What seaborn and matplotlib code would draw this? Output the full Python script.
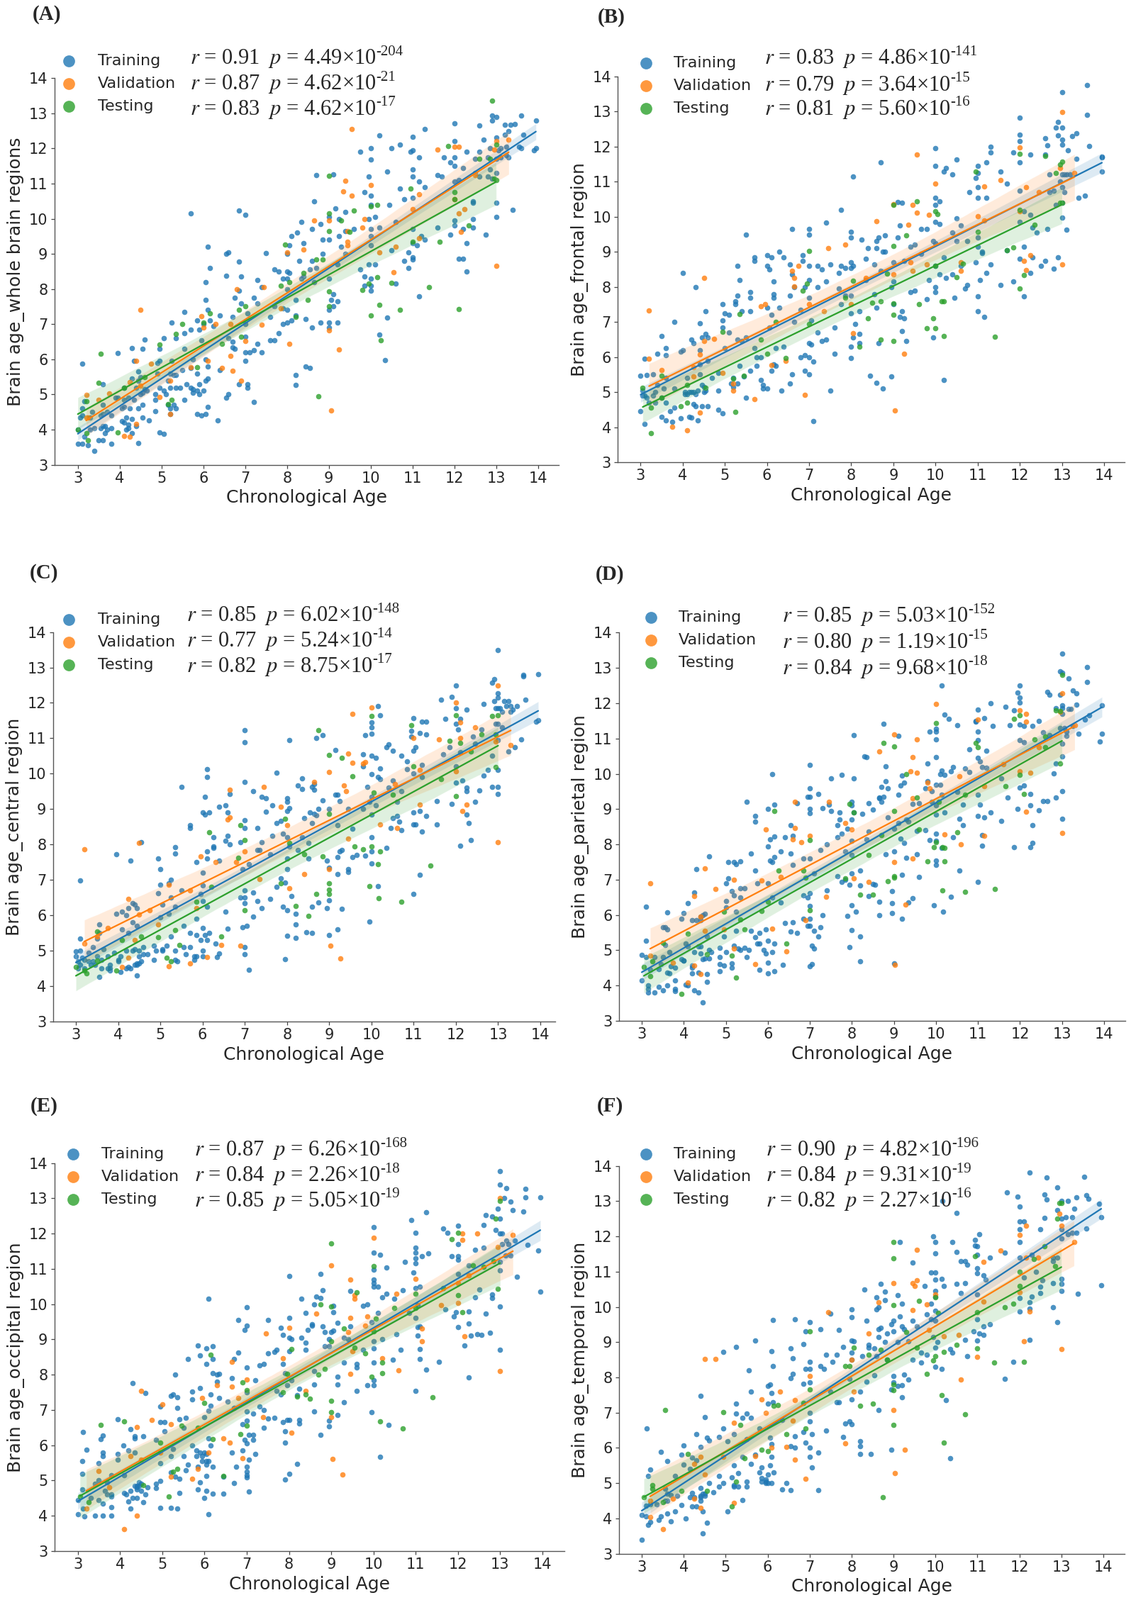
import pandas as pd
import seaborn as sns
import matplotlib.pyplot as plt
from matplotlib.collections import PathCollection

# values: {chronological age: [predicted brain ages]}
a_train = {3.0:[3.6,4.0],3.1:[3.6,4.4,4.6,5.87],3.15:[4.8,3.8],3.25:[3.55],3.4:[3.4,4.05],3.35:[4.5],3.5:[3.7],3.6:[3.7,4.1,4.45,5.3,4.7],3.65:[3.9,4.1],3.8:[3.6,4.05,4.4],3.95:[6.17,4.9],4.1:[4.2,4.65,5.2,4.85],4.2:[4.05,4.15,4.9],4.3:[3.9,5.45,6.32,4.3],4.35:[4.85,5.95],4.45:[3.62,4.6,5.65,5.4],4.55:[4.35,5.05,6.3,4.7],4.6:[6.57,5.15],4.7:[4.27],4.85:[4.53,5.0,4.85],4.95:[3.92,6.3,5.95,5.2],5.05:[3.87,6.6,5.1],5.1:[5.0],5.2:[4.6,5.2,5.6,4.45],5.25:[7.05,5.95],5.35:[6.6,4.6,5.2,5.55],5.45:[5.2],5.55:[7.35,6.75,4.85,6.3],5.6:[5.3],5.7:[10.15,6.85,5.2,5.75],5.85:[4.45,5.1,7.1,5.6],5.95:[4.4,6.55],6.05:[8.2,7.7,4.45,5.4,6.0],6.1:[7.4,9.2,4.65,5.8,5.45],6.15:[8.6,7.1],6.35:[4.27],6.4:[5.7,7.25],6.55:[9.0,8.38,4.9],6.6:[9.05,5.0,6.6],6.75:[6.3,7.75],6.85:[10.23,8.78,5.3,7.95],6.9:[8.35,7.6],7.0:[10.12,6.2,7.0,6.65,5.95],7.05:[5.2,5.3,7.3],7.1:[6.2],7.2:[4.78,6.25,7.75],7.3:[8.25,6.45,7.6],7.4:[8.05,6.2],7.5:[9.03],7.6:[7.2,6.55],7.7:[8.55,6.55,7.5],7.8:[8.5,6.75],7.9:[8.3,7.45,7.0],8.0:[9.0,8.5,8.3,7.4,8.0,7.05],8.05:[9.25,8.45],8.1:[9.5,7.1],8.2:[5.55,5.28,7.25,7.7],8.25:[9.6],8.3:[8.8],8.35:[9.9,8.3],8.4:[9.3,8.35],8.45:[5.8,7.15],8.55:[5.75,8.55],8.6:[6.9,9.7,8.8],8.65:[10.5,8.2],8.7:[11.25,8.6],8.8:[9.85,7.05],8.85:[9.4,9.0],9.0:[10.05,9.4,7.05,6.9,7.4,8.3],9.05:[7.7],9.1:[11.27,7.85,7.5],9.15:[10.3],9.2:[8.7,7.05,7.65],9.25:[9.5,10.0],9.3:[9.2],9.4:[10.2,9.0,9.65],9.6:[9.7],9.75:[11.9,8.55],9.85:[10.75,8.1,8.35],9.95:[11.2,10.0,8.7],10.0:[12.0,11.68,10.65,10.4,9.7,9.5,9.25,8.3,8.1,7.95],10.1:[10.05,8.7],10.2:[12.38,9.75,6.7],10.35:[5.97],10.4:[11.35,7.18],10.45:[10.4],10.5:[12.0,9.1],10.6:[9.9,8.15],10.7:[12.1,10.85],10.8:[8.8,10.55],10.9:[9.05,8.6],10.95:[11.9],11.0:[12.33,11.95,11.4,11.2,10.6,9.7,9.3,8.9,8.85],11.1:[9.25],11.15:[11.75,7.8,11.05],11.2:[9.5],11.3:[12.55,10.9,9.4],11.6:[11.25,9.75],11.7:[11.2],11.75:[11.75],11.9:[11.6,9.55],12.0:[12.72,12.2,11.75,11.5,11.05,9.95,9.8],12.1:[11.1,8.87],12.2:[8.87,11.45,9.7],12.3:[11.9,9.3,8.5],12.45:[10.5,10.0,9.75,10.45],12.6:[12.65,11.9,11.2],12.7:[12.25],12.75:[9.55],12.85:[11.4,12.0],12.9:[12.93,12.8,11.15],13.0:[12.9,12.3,11.7,11.3,10.45,10.05],13.05:[11.95],13.2:[12.67,12.4],13.3:[11.75,12.5],13.35:[12.67],13.4:[10.25],13.55:[12.05],13.6:[12.93,12.0],13.65:[12.4],13.9:[11.95],13.95:[12.8,12.0]}
a_more = {3.05:[4.35],3.3:[4.0,4.35],3.55:[4.05,4.4],3.7:[4.0,4.5],3.9:[4.9],4.05:[4.6,4.25],4.15:[4.35,4.0],4.25:[4.6],4.4:[5.2,4.1],4.5:[5.0,5.5],4.65:[5.1],4.9:[5.6,5.9],5.15:[5.4,4.7],5.3:[5.55,4.7],5.5:[5.7],5.75:[5.15,5.05,6.0],5.9:[5.0,5.3,6.85],6.0:[5.1,7.0],6.25:[6.95],6.7:[6.5,6.35,7.2],12.5:[11.7,11.3],12.8:[11.75,11.2],13.1:[12.0,11.75],13.25:[12.05,11.8],13.45:[12.7]}
a_val = {3.2:[4.98,4.35],3.25:[4.35],3.5:[4.85],3.75:[5.03],4.1:[3.82],4.25:[3.8,5.35],4.4:[5.95,4.17],4.5:[7.4,5.25],4.75:[5.87],4.95:[4.93],5.2:[5.4,4.45],5.7:[5.78],5.95:[7.23],6.0:[6.9],6.1:[5.95],6.3:[7.0],6.45:[5.75],6.65:[7.0,6.1],6.7:[5.68],6.8:[8.0],6.9:[5.4],7.0:[6.52],7.4:[6.98],7.45:[8.05],7.85:[7.45],8.0:[9.05],8.05:[6.45],8.4:[9.13],8.65:[9.95],9.0:[9.95,6.83],9.05:[4.55],9.25:[6.28],9.35:[10.78],9.4:[11.08],9.45:[9.65,9.35,9.25],9.55:[12.55,10.65],9.8:[9.75],9.85:[10.0],10.0:[10.95],10.2:[9.05],10.55:[8.48],10.6:[9.2],11.0:[10.27],11.15:[9.45,10.7],11.6:[11.97],12.0:[12.05,10.55],12.1:[12.05,10.15],12.15:[9.63],12.25:[10.27],12.5:[11.25],12.95:[11.97],13.0:[12.2,8.65],13.3:[12.25]}
a_test = {3.0:[4.0],3.2:[3.9,4.8],3.25:[3.7],3.5:[5.33],3.55:[6.15],3.95:[3.92],4.1:[5.2],4.6:[5.5],4.95:[6.42],5.15:[4.72],5.25:[4.85],5.35:[6.72],5.5:[7.0],5.85:[5.78],6.0:[7.05],6.15:[7.3],6.45:[6.45],6.85:[7.4],6.9:[6.65],7.0:[7.5],7.85:[8.1],7.95:[9.27],8.05:[8.2],8.2:[7.2],8.4:[8.45],8.5:[7.7],8.7:[8.85],8.75:[4.95],8.85:[8.85],9.0:[11.22,10.15,9.65,7.93,7.5],9.3:[9.95],9.5:[9.62],9.6:[10.23],9.8:[7.98],9.95:[8.15],10.0:[10.35,7.25],10.15:[10.4,8.33],10.2:[7.55],10.25:[6.55],10.5:[8.17],10.7:[7.4],10.95:[10.85],11.0:[9.35],11.4:[8.05],11.65:[9.35],11.85:[12.07],12.0:[10.75,10.55],12.1:[7.42],12.35:[9.8],12.6:[11.7],12.85:[11.7],12.9:[13.35],12.95:[11.15],13.0:[12.1,11.1]}

b_train = {3.0:[5.47,4.45],3.1:[4.1,5.95,4.9],3.15:[5.48,4.85],3.3:[5.5,4.9],3.4:[6.1,5.2],3.5:[6.6,4.3,4.85],3.6:[6.25,6.05,4.7,5.4,4.2],3.7:[4.45],3.75:[4.15],3.8:[7.0,4.55,5.1],3.95:[6.15,4.25],4.0:[8.4,6.2],4.1:[5.4,4.95],4.2:[6.5,4.27,5.0],4.25:[6.4,5.0,4.65],4.3:[8.0,4.6],4.35:[4.2,5.05],4.4:[6.97,5.8,5.5,6.2],4.45:[6.55,4.6,5.2],4.55:[6.65,7.3,5.05],4.6:[4.6,5.9,6.55],4.85:[5.55,4.5,5.05],4.95:[7.5,7.05,6.85,4.4],5.0:[7.25,6.25],5.1:[7.2,6.7],5.2:[5.15,5.4],5.25:[7.5,7.6],5.3:[8.6,7.75,6.5,5.25],5.35:[8.2,5.75],5.4:[7.3,6.45],5.5:[9.5,6.55,4.85],5.6:[7.85,7.7,7.3,5.6],5.7:[8.85,8.75,6.25],5.85:[6.0,5.35],5.9:[5.1,5.2],6.0:[8.6,8.9,7.4,5.1],6.05:[8.5,6.85],6.1:[8.85,7.2,5.6],6.15:[8.15,7.7,7.8,5.8],6.3:[9.0,7.4],6.35:[5.05],6.4:[8.85,6.3],6.55:[8.65,7.75,5.25],6.6:[9.65,8.35,5.5],6.65:[7.0,8.0],6.8:[6.0,7.35],6.85:[8.75,8.9],6.9:[5.6,6.05,8.0],7.0:[9.65,9.5,8.6,8.2,7.7,6.0,6.4,5.5],7.05:[6.35,7.05],7.1:[4.17,5.87],7.2:[8.6,8.0,6.7],7.3:[8.5,6.45],7.4:[9.83,8.15,6.5],7.5:[5.05,8.65],7.6:[6.1,6.85],7.7:[7.95,8.4],7.75:[10.2,8.6,7.5],7.85:[8.55,7.75],8.0:[9.57,9.42,8.7,8.55,7.75,7.25,6.3,5.97],8.05:[11.15,8.6,6.55],8.1:[6.95],8.2:[7.3,6.65,6.4],8.25:[9.35],8.35:[8.8,8.2],8.4:[9.1],8.45:[5.47],8.55:[8.65,7.8],8.6:[9.3,9.1,5.27,7.4],8.65:[9.4,6.4],8.7:[11.55,8.45],8.75:[5.1,9.0],8.8:[9.47,9.0],8.95:[5.45,8.0],9.0:[8.7,8.15,7.5],9.1:[10.42,9.42],9.15:[9.75,7.15],9.2:[10.4,7.3,6.75],9.25:[7.1,8.75],9.3:[6.45],9.4:[9.15,7.85],9.5:[9.2,7.9],9.65:[8.95,9.65],9.8:[7.65,9.65],9.85:[8.2],9.95:[6.55,9.3],10.0:[11.95,11.45,10.55,10.35,9.85,9.25,8.6,8.0,7.85],10.1:[9.8,10.45,8.35],10.2:[11.3,5.35,8.85],10.25:[11.4,8.25],10.4:[9.55,11.2,8.35],10.45:[7.7],10.5:[11.63,9.95,9.3],10.6:[9.75,8.6],10.7:[7.95],10.75:[8.05,9.3],10.8:[10.7],10.95:[8.7,11.1],11.0:[11.45,11.25,10.85,10.55,9.4,9.15,7.73,7.3],11.05:[8.2],11.1:[9.0,8.97],11.15:[7.15],11.2:[11.55,10.55,8.4],11.3:[12.0,11.83,8.65],11.55:[11.3,8.05],11.7:[10.95,9.05],11.85:[11.83,8.15],12.0:[12.83,12.35,12.15,11.55,10.75,9.85,8.8],12.1:[10.15,9.15,7.73],12.25:[11.77,10.05,8.4],12.3:[8.85,9.7],12.4:[9.55],12.5:[8.6],12.6:[12.25,11.77,8.75],12.65:[12.03,9.65],12.8:[8.53,10.75],12.85:[12.55,10.35],12.9:[12.7,12.33,8.85],13.0:[13.55,12.55,12.2,12.05,11.2,10.85,10.4,9.97],13.1:[11.2,9.63],13.15:[11.9],13.25:[12.3],13.35:[12.38,11.65],13.4:[10.55],13.55:[10.6],13.6:[13.75,12.9],13.65:[12.02],13.95:[11.3,11.72]}
b_more = {3.05:[4.9,5.05],3.2:[4.7],3.35:[5.0,4.7],3.55:[5.1],4.05:[5.0,4.95],4.15:[4.3,5.0],4.3:[4.95],4.5:[5.0,5.15],4.7:[5.4],5.15:[5.25],5.45:[5.45],5.75:[5.75,6.0],6.2:[5.75,6.25],12.7:[11.2,10.7],12.95:[11.0],13.05:[11.2,10.7],13.2:[11.2],13.95:[11.7]}
b_val = {3.2:[7.32,5.95],3.5:[5.62],3.75:[4.02],4.1:[3.92],4.25:[5.45,5.7],4.4:[6.08,4.42],4.5:[8.25,6.45],4.75:[6.52],4.95:[5.55],5.2:[5.05,5.25],5.7:[4.8],5.85:[7.45],5.95:[7.5],6.1:[5.78],6.45:[5.9],6.6:[8.45],6.65:[8.25,8.02],6.75:[8.6],6.9:[4.93],7.0:[7.5],7.35:[7.3],7.45:[9.1],7.85:[9.2],8.0:[7.5],8.05:[6.68],8.35:[8.25],8.6:[9.87],9.0:[10.37,8.35],9.03:[4.47],9.25:[6.1],9.35:[9.77],9.4:[8.7],9.45:[10.33,8.45],9.55:[11.77,10.12],9.8:[8.65],9.85:[10.05],10.0:[10.95],10.6:[8.45,8.7],11.0:[10.02],11.15:[10.87,9.9],11.55:[11.05],12.0:[11.98,10.15],12.1:[8.75],12.15:[10.85,8.47],12.25:[8.9],12.45:[10.7],12.95:[11.4],13.0:[12.98,8.65],13.3:[11.25]}
b_test = {3.05:[5.13],3.25:[3.82,4.55],3.5:[4.85,5.47],3.95:[4.6],4.1:[4.7,5.2],4.55:[5.13],4.95:[6.72],5.2:[5.38],5.25:[4.43],5.35:[7.22],5.45:[5.47],5.85:[6.5],6.0:[6.1],6.2:[7.0],6.45:[5.97],6.85:[7.9],6.95:[8.1],7.0:[9.03,6.95],7.85:[7.7],8.05:[8.17],8.2:[6.3],8.4:[7.1],8.5:[7.55],8.7:[6.5,7.6],8.85:[8.37],9.0:[10.35,9.17,7.2,6.45,7.53],9.3:[9.47],9.55:[10.45],9.6:[7.5],9.8:[6.83],9.95:[7.1],10.0:[10.15,8.6,6.83],10.05:[10.08],10.2:[7.6,6.6],10.15:[7.6],10.5:[8.27],10.65:[8.67],10.95:[11.3],11.0:[9.57],11.4:[6.57],11.7:[9.05],11.85:[9.12],12.0:[11.8,10.2,7.95],12.1:[8.33],12.35:[9.77],12.6:[11.73],12.85:[11.25],12.95:[11.5,10.4],13.0:[11.57,10.4]}

c_train = {3.0:[4.98,4.85],3.1:[6.98,5.35,5.0,4.6],3.15:[4.8],3.3:[4.95,4.7],3.4:[5.1,4.7],3.5:[5.35,4.85],3.55:[5.75,5.5,4.27],3.65:[5.05],3.8:[4.5,4.45,4.6],3.9:[4.95],3.95:[7.72,6.05],4.05:[4.85,4.4],4.1:[6.1,5.6],4.2:[6.0,5.0,4.5],4.25:[6.2,5.5],4.3:[7.55,4.5],4.35:[6.35,5.8,5.0],4.4:[5.05,4.6,6.3],4.45:[6.2,4.3,5.7],4.5:[4.85,5.0],4.55:[8.07,4.7],4.6:[5.1,4.9],4.85:[5.15,4.75],4.9:[5.0],4.95:[7.6,6.62],5.0:[7.3,6.87,5.95],5.05:[6.3],5.15:[5.15],5.2:[6.9,6.05],5.25:[7.0,6.5,5.4],5.35:[7.92,7.75,6.25,4.75,5.0],5.5:[9.63,6.7],5.55:[5.7,5.1],5.7:[8.55,8.47,5.5,5.1],5.85:[7.5,5.9,5.45,4.85],5.95:[6.6,5.3],6.0:[8.9,7.2,6.85,6.4,5.65,5.0,4.85],6.05:[9.35,8.85,5.45],6.1:[10.12,9.9,7.8,7.6,6.25,5.3],6.15:[8.9,5.5],6.25:[7.9,7.95,8.2],6.35:[4.83],6.4:[9.07,7.55,4.93],6.55:[9.1,8.1,6.1],6.6:[8.9,8.25,5.62],6.65:[9.42,8.0],6.9:[8.07,6.5],6.95:[7.3,5.67],7.0:[11.23,10.88,9.77,8.68,8.47,6.7,6.5,6.35,5.1,4.9],7.05:[5.7],7.1:[4.47,7.45],7.2:[9.5,6.65,5.97],7.3:[8.47,6.4,7.85],7.35:[7.85],7.4:[9.35,8.07,6.2],7.5:[9.3,8.93],7.6:[6.47,7.72],7.65:[9.1,8.25],7.75:[10.03,8.6,6.8],7.85:[8.67,7.05],7.9:[8.3,6.25],7.95:[6.93,4.77],8.0:[9.3,9.2,8.95,8.2,7.6,7.3,6.15,5.43],8.05:[10.95,9.03,7.95],8.1:[6.55],8.2:[5.37,6.05,5.75],8.25:[9.67,7.85],8.35:[9.87,9.57,8.2],8.4:[8.75],8.45:[5.53],8.5:[8.05,7.6],8.55:[8.9],8.6:[9.63,8.6,6.25,5.5],8.65:[9.7,9.55,8.87],8.7:[11.0,8.83],8.75:[9.0,6.37],8.85:[11.08,9.25],8.95:[7.55,6.2],9.0:[9.0,6.43,5.45,7.35],9.15:[10.67,9.4],9.2:[9.4,8.55,7.65,7.17,5.6],9.25:[9.23,7.8],9.3:[7.85,6.18],9.45:[9.0,7.3,7.22],9.55:[8.45,7.65],9.65:[7.7],9.8:[10.55,10.2,9.0],9.85:[11.08,7.68],9.9:[9.63],9.95:[5.83,9.2],10.0:[11.45,11.3,11.12,10.5,9.98,9.35,8.85,8.2,7.8,7.47],10.1:[10.45,9.1],10.15:[11.9,9.9,6.83],10.2:[11.65,10.15,9.85],10.35:[10.75,7.9],10.4:[10.83,9.6],10.45:[8.47],10.5:[9.8,10.65,8.75],10.6:[8.8,9.2],10.65:[8.65],10.7:[10.5,9.5,8.4],10.85:[10.13,10.35],10.95:[11.05,11.2],11.0:[11.57,10.65,10.0,8.9,8.57,6.6],11.05:[10.75,8.57],11.15:[11.15,8.95,7.15],11.2:[11.47,10.25,8.37,9.9],11.3:[11.47,11.1,8.8],11.55:[9.23,8.57],11.65:[12.08],11.7:[10.55],11.75:[11.55],11.85:[10.75],11.9:[12.17,9.15],12.0:[12.5,11.85,11.4,10.2,9.75],12.05:[11.25],12.1:[11.55,10.6,7.97],12.15:[9.8],12.25:[11.8,9.5,9.6,8.85],12.3:[8.6],12.35:[8.13],12.4:[11.05],12.45:[10.85,9.2],12.55:[9.52],12.6:[11.25],12.65:[11.97,9.95],12.75:[10.1],12.85:[12.57,9.63,10.5],12.9:[12.67,12.05],13.0:[13.5,12.27,12.15,11.85,11.4,10.95,10.1,9.63,9.42],13.1:[11.75,11.3],13.15:[12.05],13.25:[10.62,12.05],13.3:[11.9],13.35:[11.8],13.4:[10.75],13.55:[10.97],13.6:[12.8,12.75],13.65:[12.08],13.9:[11.47],13.95:[12.82,11.5]}
c_more = {3.05:[4.7,4.5],3.2:[4.5,4.75],3.35:[4.6],3.45:[4.6],3.6:[4.5,4.75],3.75:[4.85,4.5],4.0:[4.7,4.75],4.25:[4.55],4.45:[4.6,4.65],4.5:[4.65],4.7:[4.9],5.05:[5.0,5.05],5.4:[4.7],5.6:[4.9],5.8:[4.75,4.85],6.3:[5.2],12.95:[11.4,11.85],13.05:[11.85],13.2:[11.9],13.3:[11.75],13.45:[11.9]}
c_val = {3.2:[7.87,5.2],3.5:[5.4],3.75:[5.65],4.1:[4.55],4.25:[6.47,4.8],4.4:[5.3],4.5:[8.05,6.03],4.75:[6.15],4.95:[5.75],5.2:[6.87,4.57],5.7:[4.65,6.7],5.85:[6.2],5.95:[7.67],6.1:[4.83],6.3:[7.5],6.45:[5.17],6.6:[8.7],6.65:[8.77,9.55],6.8:[7.5],6.9:[5.15],7.0:[7.8],7.35:[7.03],7.45:[9.63],7.85:[9.07],8.0:[8.55],8.05:[6.77],8.4:[7.17],8.65:[9.77],9.0:[10.05,7.3],9.03:[5.15],9.27:[4.78],9.35:[9.67],9.4:[9.5],9.45:[10.57,8.17],9.55:[11.68,10.3],9.8:[10.28],9.85:[10.32],10.0:[11.87],10.2:[8.57],10.55:[9.7],10.6:[8.47],11.0:[11.0],11.15:[10.1,9.13],11.6:[10.97],12.0:[12.0,10.07],12.1:[11.0,11.45],12.15:[8.95],12.25:[9.12],12.45:[11.3],12.95:[10.9],13.0:[12.5,8.07],13.3:[10.8]}
c_test = {3.0:[4.55],3.2:[4.45],3.25:[4.37],3.5:[5.55,4.72],3.95:[4.45],4.1:[5.3],4.55:[5.4],4.95:[5.38],5.15:[4.8],5.25:[4.7],5.35:[5.58],5.45:[5.17],5.85:[6.38],6.15:[8.35],6.2:[6.8],6.45:[5.4],6.85:[7.63],6.9:[8.55],7.0:[8.13,6.15],7.85:[6.9],7.95:[8.72],8.05:[8.05],8.2:[6.27],8.4:[7.72],8.5:[5.98],8.7:[6.6],8.75:[11.22],8.85:[7.67],9.0:[10.53,8.87,6.9,6.72,6.6],9.3:[10.45],9.55:[9.93],9.6:[7.95],9.8:[7.87],9.95:[6.82],10.0:[11.62,7.95],10.05:[9.47],10.15:[7.45],10.17:[6.48],10.2:[7.8],10.5:[9.4],10.7:[6.38],10.95:[11.37],11.0:[10.2],11.4:[7.4],11.65:[9.85],11.85:[10.93],12.0:[11.65,9.37],12.1:[10.87],12.35:[10.63],12.6:[11.1],12.85:[11.63],12.95:[10.18,11.1],13.0:[11.65]}

d_train = {3.0:[4.87,4.15],3.1:[6.23,5.28,4.8],3.15:[4.0,3.8,3.9],3.3:[3.8,4.8],3.4:[3.97,4.47],3.5:[3.87,4.8,5.65],3.55:[5.65,5.15],3.6:[6.07,4.0,5.6,4.37],3.65:[4.95,4.35],3.8:[4.15,3.9,3.85,4.5],3.95:[5.9,4.75],4.0:[6.05,4.7],4.05:[4.03,5.2],4.1:[6.33,5.1],4.2:[5.85,4.57,4.35,4.5],4.25:[6.63,3.87,4.95],4.3:[7.3,5.85],4.35:[3.8,5.1,4.37],4.4:[5.85,5.95],4.45:[3.52,6.0,4.75],4.5:[6.03,4.77],4.55:[4.1,4.33,5.4],4.6:[7.67,5.0,4.77],4.85:[4.6,5.07,4.8,4.4],4.95:[4.57,5.4],5.0:[6.9,6.4,6.22],5.05:[7.5,7.03],5.15:[6.67,4.5,4.62],5.2:[7.5,6.55,5.13],5.25:[7.45,6.1,5.55],5.35:[7.53,5.0,6.75,6.5],5.45:[5.07,6.75],5.5:[9.2,4.8],5.6:[7.75,5.55],5.7:[8.65,8.8,7.25,5.37],5.75:[6.9,5.2],5.8:[4.45,5.2,5.5],5.95:[4.9,5.6],6.0:[9.0,7.95,6.9,4.65,4.35,5.27],6.05:[8.15,7.55],6.1:[10.0,7.5,6.5,4.95],6.15:[9.13,8.22,7.65,5.2,4.4],6.3:[7.8,6.35],6.35:[4.58],6.4:[8.2,5.78],6.55:[8.55,7.75,5.53],6.6:[8.25,5.8,7.42],6.7:[9.17,5.5],6.85:[7.6,6.55,5.9],6.95:[9.35,6.5,5.7],7.0:[10.25,9.6,9.35,9.0,8.88,7.6,6.25,6.62,5.9,5.7,4.55],7.05:[5.13,4.6],7.1:[5.55,5.05,7.17],7.2:[9.42,5.4],7.25:[7.85,5.65],7.3:[9.03,6.0],7.4:[8.0,6.7],7.45:[9.12],7.5:[9.88,8.95],7.65:[8.55,7.1,8.2],7.7:[8.9,8.7],7.75:[9.97,8.3,6.93],7.85:[7.8,7.0],7.9:[5.97,8.45],7.95:[6.85,5.08],8.0:[9.2,9.1,8.7,8.1,7.7,7.17,6.27,5.57],8.05:[11.1,9.87,8.9],8.1:[6.1],8.2:[7.25,6.83,4.68,5.4],8.25:[8.87],8.3:[10.5],8.35:[10.47,8.15],8.4:[9.17,6.53,8.37],8.5:[8.98,6.87],8.55:[6.85],8.65:[9.3,9.33,6.37,6.0],8.7:[9.63,9.2],8.75:[11.42,9.35],8.8:[10.22,9.8,7.73],8.85:[8.77,9.6],8.95:[6.67,6.33,6.05],9.0:[8.45,7.8,4.63],9.1:[11.07,9.4,8.6],9.15:[9.67,8.17],9.2:[9.95,7.13,5.9],9.25:[9.75,8.05],9.3:[7.62,8.7],9.35:[6.35,8.65],9.45:[9.15,6.47],9.55:[7.72,8.38],9.6:[7.07,9.17],9.75:[8.4,9.6],9.8:[10.3,9.8],9.85:[11.2,8.13],9.9:[9.2,9.5],9.95:[6.28],10.0:[11.28,11.2,10.97,10.47,9.7,9.1,8.85,8.3,8.1,7.55,7.43],10.1:[9.7,10.0],10.13:[12.5,9.4,10.1,7.9],10.17:[6.1],10.2:[11.67,9.97,8.9],10.3:[11.55],10.35:[10.07,6.52],10.4:[10.2,8.2],10.5:[11.37,9.48],10.55:[8.73,7.25],10.65:[9.12,8.55],10.7:[10.15],10.8:[10.7,10.05],10.95:[11.47,11.5],11.0:[11.83,11.2,10.95,10.45,9.4,8.8,6.93],11.05:[10.35,9.12],11.1:[10.2,8.27,7.97],11.15:[11.57,8.77],11.2:[10.65,10.17],11.3:[12.0,8.9],11.35:[11.35],11.55:[9.87,8.67],11.65:[11.9],11.7:[9.33],11.75:[11.37],11.85:[11.8,7.93],11.95:[12.3,9.0],12.0:[12.5,12.17,12.03,11.4,10.95,9.62],12.1:[11.35,10.9,9.68],12.25:[9.43,9.1,7.93],12.3:[8.05,8.55,11.35],12.45:[11.5,8.97],12.55:[11.18,9.23],12.65:[12.33,9.22],12.7:[12.25,11.1],12.8:[10.02],12.85:[11.87,9.33,10.3],12.95:[12.9,12.25,11.3],13.0:[13.4,12.87,11.95,11.87,11.7,10.85,10.5,9.5,8.73],13.1:[11.07,11.2],13.15:[12.7,11.85],13.25:[12.37,11.35],13.35:[12.28,11.97],13.4:[11.13],13.55:[11.53],13.6:[13.02,12.6],13.65:[11.65],13.9:[10.92],13.95:[11.95,11.13]}
d_more = {3.2:[4.45],3.45:[4.6],3.7:[4.55],4.0:[4.7],4.1:[4.0],4.4:[4.9,5.1],4.65:[4.95],5.0:[4.95],5.3:[5.05],5.55:[5.0],5.9:[5.0],13.05:[11.3],13.2:[11.85]}
d_val = {3.2:[6.9,4.85],3.75:[4.65],4.1:[4.08],4.25:[6.53,4.57],4.4:[5.95,4.32],4.5:[7.32,5.55],4.75:[6.73],4.95:[5.6],5.2:[7.0,5.05],5.7:[4.6],5.85:[6.97],5.95:[8.43],6.1:[5.62],6.3:[7.07],6.45:[4.97],6.6:[8.15],6.65:[9.2,8.47],6.8:[8.07],6.9:[5.85],7.0:[8.25],7.38:[6.52],7.45:[9.2],7.85:[8.6],8.0:[8.43],8.05:[7.03],8.4:[6.93],8.65:[10.63],9.0:[11.12,7.5],9.03:[4.58],9.27:[6.3],9.4:[10.07],9.45:[10.47,7.6,9.3],9.55:[10.97,10.03],9.8:[9.75],9.85:[9.6],10.0:[11.98],10.2:[8.28],10.55:[9.93],10.6:[8.0],11.0:[11.53],11.15:[9.65,8.25],11.6:[10.27],12.0:[11.8,10.07],12.15:[11.7,11.47,8.93],12.25:[10.03],12.45:[10.75],12.95:[11.75],13.0:[12.28,8.33],13.3:[11.38]}
d_test = {3.05:[4.53],3.2:[4.27],3.25:[4.68],3.5:[5.22],3.95:[3.77],4.1:[5.48],4.55:[4.88],4.95:[6.1],5.15:[4.85],5.25:[4.23],5.35:[5.87],5.45:[5.6],5.85:[6.12],6.0:[6.38],6.15:[8.95],6.25:[7.25],6.45:[5.2],6.85:[7.25],6.9:[7.05],7.0:[8.12,6.13],7.85:[7.03],7.95:[9.15],8.05:[8.9],8.2:[6.57],8.4:[7.7],8.5:[6.57],8.7:[8.27],8.75:[10.87],8.85:[6.95],9.0:[10.78,8.95,7.1,7.05],9.3:[10.0],9.55:[9.33],9.6:[8.43],9.8:[7.53],9.95:[7.92],10.0:[11.43,8.07],10.07:[9.2],10.15:[6.7,7.93],10.2:[7.9,7.52],10.5:[8.35],10.7:[6.65,9.4],10.95:[10.88],11.0:[10.75],11.4:[6.73],11.65:[9.65],11.85:[11.55],12.0:[11.65,9.98],12.1:[9.42],12.35:[10.97],12.6:[10.75,11.05],12.85:[11.8],12.95:[10.3,11.77],13.0:[12.8]}

e_train = {3.0:[4.05,4.45],3.1:[5.55,5.2,4.75],3.12:[6.37,4.2],3.15:[3.98],3.2:[5.87],3.4:[4.0,4.9],3.5:[5.5,5.0,4.45],3.55:[6.17],3.6:[4.0,6.28,5.8,5.7,4.35],3.65:[4.7],3.8:[4.0,5.15,4.25,4.6,4.55],3.95:[6.73,5.75,5.6],4.08:[6.0],4.1:[4.65,5.15],4.2:[4.4,5.85],4.25:[6.45,4.2,4.7],4.3:[7.77,4.5],4.35:[6.25,6.2,4.85,5.8],4.4:[4.5,4.75],4.45:[4.85,4.95],4.55:[4.38,6.25],4.6:[7.48,4.6],4.65:[4.8],4.85:[4.78,6.15,4.9],4.95:[7.1,6.65,4.98,4.22,5.5],5.05:[6.65,6.4],5.2:[5.23,7.4,5.7,4.22],5.25:[7.45,5.9],5.3:[8.0,5.1],5.35:[7.37,7.05,4.2],5.4:[6.73,5.05,4.65],5.5:[6.5,5.7],5.55:[6.78,5.3],5.6:[8.45,5.45],5.7:[7.53,7.3,6.0],5.85:[8.82,5.4,4.75],5.9:[8.55,7.62,4.95,5.8],6.0:[6.8,4.5,5.8],6.05:[8.3,8.75,5.75,5.45,4.7,5.55,5.13],6.1:[10.15,6.98,4.05,6.2],6.15:[7.45,7.12,6.0],6.2:[8.45,8.8,8.05,5.4,4.63],6.3:[8.0,7.8],6.35:[7.35,8.03],6.45:[5.1,4.63],6.55:[7.25],6.65:[7.9,5.8],6.7:[8.45,4.93,7.05],6.75:[5.4],6.8:[9.55,8.62],6.9:[5.85,6.6],6.95:[9.27,6.15],7.0:[9.92,9.4,8.2,7.5,6.95,6.7,5.25,5.4,5.15,5.08,6.05],7.05:[6.3,5.6,4.68],7.15:[6.3,6.9,6.15],7.2:[7.85,5.75],7.3:[8.27,7.1],7.4:[8.3,7.0,6.5],7.5:[9.55,8.6,6.75],7.65:[8.65,6.77],7.7:[8.7,7.55],7.8:[9.32,7.45],7.85:[9.12,8.3,6.65],7.9:[8.05,6.4,6.07,5.02],7.95:[6.72,7.7],8.0:[10.8,9.62,9.05,8.67,6.72,5.2],8.05:[9.0,7.85],8.2:[7.42,5.47],8.25:[7.6,6.72,6.62],8.3:[10.15,9.05],8.4:[9.75,8.9,8.7],8.45:[9.27],8.55:[9.4,9.43],8.6:[8.1,7.72,6.95,10.0],8.65:[10.22],8.75:[10.85,10.18,6.3],8.8:[10.4,9.38],8.85:[9.2,8.8],8.95:[9.0,8.8,6.53,6.7],9.0:[9.2],9.05:[9.95,9.77,9.25],9.15:[9.47,7.72,6.85,7.95],9.3:[9.05,7.22,8.35],9.4:[9.0],9.45:[10.38,9.38],9.6:[8.2,7.55,8.3],9.75:[8.7,9.95],9.85:[10.0,7.7],9.95:[6.93,9.5],10.0:[12.18,11.45,10.97,10.7,10.6,10.5,8.95,8.75,8.35,7.85,7.7],10.1:[10.5,9.75],10.15:[11.4,5.68],10.2:[10.2,9.0],10.3:[11.03,10.3],10.35:[6.58],10.45:[8.42],10.5:[10.15],10.55:[9.15],10.65:[8.7],10.7:[10.4],10.75:[11.2],10.85:[9.75],10.9:[12.38],10.95:[10.9],11.0:[12.02,11.6,11.45,11.3,11.15,10.45,9.62,7.55],11.05:[9.98,9.35,9.1],11.1:[8.45,8.72,10.5,9.37],11.15:[11.35],11.25:[12.6,8.15],11.3:[11.43],11.55:[8.37],11.65:[12.15],11.7:[9.85],11.75:[12.03],11.85:[11.35],11.9:[9.65],11.95:[9.77],12.0:[12.23,11.7,11.35,11.25,10.85,9.35],12.15:[8.82],12.25:[7.92,11.1,9.45,9.8],12.3:[9.1],12.4:[11.55,10.2],12.45:[9.15],12.5:[10.42],12.55:[9.12],12.6:[12.25,11.6],12.65:[9.73,12.52],12.75:[9.18],12.8:[12.48,10.28,10.18],12.9:[12.1],12.95:[12.7],13.0:[13.78,13.38,12.42,12.0,11.2,10.95,9.93,8.7],13.1:[13.0],13.13:[11.38],13.15:[13.28,11.8],13.25:[12.9,11.38],13.3:[12.67],13.35:[11.8],13.4:[10.77],13.55:[12.63],13.6:[13.27,13.03],13.65:[11.68],13.9:[11.53],13.95:[13.03,10.35]}
e_more = {3.3:[4.5],3.7:[4.6,4.95],4.15:[4.6],4.4:[4.8,4.85],4.5:[4.9,4.7],5.8:[5.7,5.85],5.95:[5.55,5.7],6.1:[5.55],13.05:[12.0,11.7],13.2:[11.7]}
e_val = {3.2:[4.2],3.5:[5.27],3.75:[4.8],4.1:[3.62],4.25:[5.7],4.4:[6.52,4.0],4.5:[7.55,5.6],4.75:[6.72],4.95:[5.8],5.0:[7.15],5.2:[6.6,5.1],5.7:[5.05],5.85:[5.33],5.95:[7.35],6.1:[5.8],6.3:[7.7],6.45:[6.2],6.6:[6.08],6.65:[8.37,7.67],6.8:[7.35],6.9:[5.63],7.0:[7.87],7.38:[6.8],7.45:[9.17],7.85:[8.47],8.0:[9.33],8.05:[6.35],8.4:[7.55],8.65:[9.73],9.0:[11.1,6.8],9.03:[5.62],9.27:[5.18],9.4:[9.2],9.45:[10.7,8.02,9.62],9.5:[8.67],9.55:[10.25,10.15],9.8:[9.4],9.85:[9.65],10.0:[11.88],10.2:[8.47],10.55:[10.3],10.6:[8.12],11.0:[10.72],11.15:[9.3,8.95],11.6:[9.97],12.0:[10.03,10.6],12.1:[11.82,12.0],12.15:[9.08],12.25:[10.82],12.45:[12.0],12.95:[11.62],13.0:[13.0,8.1],13.3:[11.97]}
e_test = {3.05:[4.55],3.25:[4.38],3.55:[6.57],4.1:[6.68],4.55:[4.87],4.95:[6.07],5.15:[4.55],5.25:[5.25],5.35:[5.33],5.45:[6.55],5.85:[6.5],6.0:[7.2],6.15:[8.57],6.2:[6.18],6.45:[5.13],6.85:[6.32],6.9:[7.78],7.0:[7.57,6.55],7.85:[7.5],7.95:[8.02],8.05:[8.73],8.2:[7.38],8.4:[7.45],8.5:[7.33],8.7:[8.0],8.75:[10.0],8.85:[8.17],9.0:[11.72,9.93,8.95,7.27,6.93],9.3:[9.3],9.55:[8.77],9.6:[10.33],9.8:[8.6],9.95:[7.95],10.0:[11.08,9.23],10.05:[9.6],10.15:[6.68],10.2:[8.05,8.35],10.5:[9.9],10.7:[6.47],11.0:[10.3,9.9],11.4:[7.37],11.65:[10.45],11.85:[11.85],12.0:[12.02,10.25],12.1:[9.77],12.35:[11.1],12.6:[11.05],12.85:[11.22],12.9:[12.42],12.95:[10.43],13.0:[12.93]}

f_train = {3.0:[3.4,4.1],3.1:[4.05,4.35],3.12:[6.55],3.15:[3.82,5.2],3.2:[3.9,5.38],3.4:[3.95],3.45:[5.88,4.05],3.55:[4.5,4.85],3.6:[5.63,4.13],3.7:[3.92,4.67],3.8:[5.2,4.2],3.85:[4.65],3.95:[5.8,4.37],4.0:[6.07,5.53],4.05:[4.0],4.15:[4.6,5.4],4.2:[5.72,4.33,4.72],4.3:[6.4,4.33,5.65],4.4:[7.48,6.03,4.6,4.87],4.45:[3.57,4.2,4.7],4.5:[6.87,4.65],4.55:[3.88,6.3],4.6:[6.22,5.0],4.7:[4.75],4.85:[5.2,4.9,6.32],4.95:[8.73,6.55,5.0],5.05:[4.2,6.2],5.15:[5.17],5.2:[6.4,5.5,4.95],5.25:[8.87,7.25,6.97],5.3:[5.28,4.9],5.4:[4.53,6.85,5.75],5.5:[6.97,4.9,6.25],5.55:[8.2],5.6:[7.6,5.55,6.85],5.7:[9.05,5.8],5.8:[5.3,6.55],5.85:[5.45,5.05],5.95:[5.0],6.0:[7.75,7.25,5.25,5.0],6.05:[7.8,6.3,5.5],6.1:[8.75,7.55,6.1,5.75,5.0],6.12:[9.63,8.33,7.3],6.15:[5.3],6.35:[4.82,6.8],6.45:[5.0],6.55:[7.98,8.82,6.05,4.8],6.6:[8.55,8.1],6.65:[9.65,6.33,6.0],6.85:[8.95,7.82,6.45],6.9:[9.3,8.25,6.15],7.0:[9.57,8.45,8.25,7.85,7.0,6.75,6.0,5.75],7.05:[6.4,5.45],7.2:[4.8,5.87],7.25:[9.37,8.33],7.35:[8.25],7.4:[8.65,6.5],7.5:[9.82,7.6],7.55:[8.45],7.65:[7.3,8.65],7.7:[9.35,7.3],7.8:[8.87,6.32],7.85:[6.7],7.95:[6.75,7.97],8.0:[9.93,9.7,9.05,8.7,8.5,7.37,6.67],8.05:[9.03],8.2:[5.83,6.2,6.05,7.6],8.25:[8.6],8.3:[10.5],8.35:[9.6,7.88],8.4:[8.93,8.85],8.45:[5.83],8.55:[8.83,8.07],8.6:[9.93,10.27,8.6],8.65:[10.0,9.37,7.07,9.15],8.7:[10.65,9.4],8.8:[10.43,10.2,9.0],8.85:[9.25,8.5],8.95:[5.95,9.5,7.65],9.0:[9.6,9.3,8.05,7.85],9.1:[10.33,9.0,7.75],9.15:[9.72,11.85],9.2:[10.1,9.45,7.43,7.77],9.25:[9.37,8.08],9.35:[9.02,7.93],9.45:[11.25,9.6,8.5],9.55:[9.45],9.65:[8.42,8.7],9.75:[10.6],9.8:[9.8,8.65],9.9:[10.97,9.65,10.1],9.95:[12.0,9.15],10.0:[11.85,11.52,10.97,10.78,10.45,10.3,9.9,9.6,8.85,8.3],10.05:[9.0],10.15:[10.8,8.25],10.17:[13.0],10.2:[10.6],10.25:[7.35],10.35:[5.7,8.8],10.4:[11.85,8.7],10.5:[12.67,11.57,10.65],10.6:[11.3,10.4],10.7:[10.67,11.3,9.07],10.75:[11.2,8.6],10.9:[9.3],10.95:[11.9,11.75],11.0:[11.72,11.47,11.1,10.95,10.35,9.65,9.05],11.05:[12.07,9.25],11.15:[10.9,9.45,9.2],11.2:[10.78],11.3:[11.4,9.5],11.65:[11.55,7.97],11.7:[13.25],11.85:[8.45],11.95:[13.13],12.0:[12.85,12.43,12.2,11.85,11.4,10.25,9.87],12.1:[12.43,10.83],12.25:[13.82,10.13,9.95,9.07],12.3:[11.47,10.3],12.4:[11.0],12.5:[12.2,10.4,10.58],12.55:[10.75],12.6:[13.18,12.52],12.65:[13.05,13.67],12.8:[11.3,10.67,10.0,11.4],12.9:[13.4,11.4,12.75,9.57],13.0:[13.0,12.5,12.2,11.95,10.8,10.65,10.45],13.1:[12.55],13.15:[13.0,12.07],13.25:[12.55,12.1],13.3:[12.78],13.35:[13.1,12.1],13.4:[10.37],13.55:[13.7],13.6:[13.17,12.22],13.65:[13.07],13.9:[12.93],13.95:[12.55,10.62]}
f_more = {3.2:[4.4],3.35:[4.4],3.6:[4.7,4.5],4.25:[4.6],4.4:[4.5,4.65],4.5:[4.7],5.2:[4.9],5.5:[5.05],5.85:[5.15],5.95:[5.1,5.05]}
f_val = {3.2:[4.03,4.5],3.5:[3.7],3.75:[4.57],4.25:[5.55,4.57],4.4:[5.75,4.3],4.5:[8.53,5.25],4.75:[8.53],4.95:[5.75],5.2:[6.72,4.45],5.7:[5.77],5.85:[7.37],5.95:[7.0],6.1:[6.0],6.3:[7.6],6.45:[6.03],6.6:[6.78],6.65:[7.35,5.67],6.9:[5.13],7.0:[8.05],7.45:[9.85],7.85:[6.13],8.0:[8.5],8.05:[7.6],8.4:[9.25],8.65:[10.13],9.0:[10.68,7.07],9.03:[5.28],9.27:[5.95],9.45:[10.68,9.92],9.5:[10.6],9.55:[11.62,10.75],9.8:[10.08],9.85:[9.35],10.0:[10.35],10.2:[9.17],10.55:[9.2],10.6:[7.93],11.0:[8.58],11.15:[11.27,10.15],11.55:[11.6],12.0:[12.05,10.42],12.1:[9.03],12.15:[12.3,11.4],12.25:[9.87],12.45:[11.4],12.95:[12.65],13.0:[12.3,8.8],13.3:[11.85]}
f_test = {3.05:[4.6],3.25:[4.85,4.95],3.5:[4.47],3.55:[7.08],3.95:[4.78],4.1:[5.83],4.55:[4.78],4.95:[7.02],5.15:[4.33],5.25:[5.05],5.35:[6.65],5.45:[5.7],5.85:[5.95],6.0:[5.9],6.15:[7.2],6.25:[7.22],6.45:[6.4],6.85:[7.27],6.9:[6.55],7.0:[9.3,7.65],7.85:[8.33],7.95:[8.33],8.05:[8.85],8.2:[7.2],8.4:[8.65],8.5:[7.25],8.7:[8.78],8.75:[4.6],8.85:[8.5],9.0:[11.85,11.38,10.05,7.8,7.63,6.65],9.3:[9.28],9.55:[8.85],9.6:[10.17],9.8:[8.1],9.95:[8.48],10.0:[10.27,8.6],10.07:[9.83],10.15:[7.5],10.2:[8.73,6.15],10.5:[8.92],10.7:[6.95],10.95:[11.43],11.0:[8.82,9.85],11.4:[8.43],11.65:[10.0],11.85:[10.1],12.0:[11.0,10.6],12.1:[8.45],12.35:[11.35],12.6:[11.72],12.85:[11.15],12.9:[12.5],12.95:[12.95],13.0:[12.95]}

series_names = ['Training', 'Validation', 'Testing']
panel_names = ['(A)', '(B)', '(C)', '(D)', '(E)', '(F)']
y_labels = ['Brain age_whole brain regions', 'Brain age_frontal region', 'Brain age_central region',
            'Brain age_parietal region', 'Brain age_occipital region', 'Brain age_temporal region']
r_text = [['0.91', '0.87', '0.83'], ['0.83', '0.79', '0.81'], ['0.85', '0.77', '0.82'],
          ['0.85', '0.80', '0.84'], ['0.87', '0.84', '0.85'], ['0.90', '0.84', '0.82']]
p_text = [[('4.49', '-204'), ('4.62', '-21'), ('4.62', '-17')],
          [('4.86', '-141'), ('3.64', '-15'), ('5.60', '-16')],
          [('6.02', '-148'), ('5.24', '-14'), ('8.75', '-17')],
          [('5.03', '-152'), ('1.19', '-15'), ('9.68', '-18')],
          [('6.26', '-168'), ('2.26', '-18'), ('5.05', '-19')],
          [('4.82', '-196'), ('9.31', '-19'), ('2.27', '-16')]]
panel_data = [(a_train, a_val, a_test), (b_train, b_val, b_test), (c_train, c_val, c_test),
              (d_train, d_val, d_test), (e_train, e_val, e_test), (f_train, f_val, f_test)]
panel_more = [a_more, b_more, c_more, d_more, e_more, f_more]

W, H = 1595, 2257
# pixel layout of each panel: left, right, bottom, y=14, x=3, x=14
boxes = [(76.5, 788, 655.6, 110.2, 109.7, 758.7), (871, 1586, 652, 108, 903.4, 1557),
         (74.5, 783, 1441, 891.6, 107, 762), (872.5, 1587, 1440, 892.5, 905, 1557),
         (76.5, 796, 2188, 1640.6, 109.7, 765), (872.5, 1586, 2191.6, 1644.7, 905, 1556)]
# legend marker x, legend text x, r text x, legend row y, r row y, label x, label y
notes = [(97, 138, 268, (84, 118, 153), (83, 119, 154), 46, 21),
         (910.5, 950, 1078, (86, 121, 155), (83, 120, 154), 843, 24),
         (97, 138, 263, (872, 906, 941), (869, 904, 940), 42, 808),
         (918, 957, 1103, (869, 903, 937), (870, 906, 943), 840, 811),
         (103, 143, 274, (1626, 1660, 1695), (1623, 1659, 1694), 43, 1560),
         (910.5, 950, 1080, (1626, 1660, 1695), (1623, 1659, 1694), 842, 1560)]


def to_frame(column):
    rows = [(age, v) for age, vals in column.items() for v in vals]
    return pd.DataFrame(rows, columns=['age', 'pred'])


sns.set_style('ticks')
plt.rcParams['mathtext.fontset'] = 'stix'
colors = sns.color_palette('tab10', 3)

fig = plt.figure(figsize=(W / 100, H / 100), dpi=100)

for i, box in enumerate(boxes):
    left, right, bottom, top, x3, x14 = box
    ax = fig.add_axes([left / W, 1 - bottom / H, (right - left) / W, (bottom - top) / H])
    frames = [to_frame(c) for c in panel_data[i]]
    frames[0] = pd.concat([frames[0], to_frame(panel_more[i])])
    for frame, color in zip(frames, colors):
        sns.regplot(data=frame, x='age', y='pred', ax=ax, color=color, seed=0,
                    scatter_kws={'s': 30, 'linewidths': 0},
                    line_kws={'linewidth': 1.6})
    unit = (x14 - x3) / 11
    ax.set_xlim(3 - (x3 - left) / unit, 14 + (right - x14) / unit)
    ax.set_ylim(3, 14)
    ax.set_xticks(range(3, 15))
    ax.set_yticks(range(3, 15))
    ax.tick_params(labelsize=15, length=3.5, width=0.9, pad=3, color='#444444')
    ax.set_xlabel('Chronological Age', fontsize=18, labelpad=4)
    ax.set_ylabel(y_labels[i], fontsize=18, labelpad=4)
    sns.despine(ax=ax)
    for s in ['left', 'bottom']:
        ax.spines[s].set_color('#555555')
        ax.spines[s].set_linewidth(1.0)

    mark_x, text_x, r_x, leg_y, r_y, lab_x, lab_y = notes[i]
    fs = 16
    em = fs * 100 / 72
    points = [c for c in ax.collections if isinstance(c, PathCollection)]
    ax.legend(points, series_names, loc='center left',
              bbox_to_anchor=((mark_x - em / 2) / W, 1 - leg_y[1] / H),
              bbox_transform=fig.transFigure, frameon=False, fontsize=fs, markerscale=2.2,
              borderpad=0, borderaxespad=0, handlelength=1,
              handletextpad=(text_x - mark_x - em / 2) / em, labelspacing=0.55, scatterpoints=1)
    for j in range(3):
        base, exp = p_text[i][j]
        label = f'$r$ = {r_text[i][j]}  $p$ = {base}×10'
        t = fig.text(r_x / W, 1 - r_y[j] / H, label, family='Liberation Serif', fontsize=22,
                     ha='left', va='center')
        ax.annotate(exp, xy=(1.0, 0.5), xycoords=t, family='Liberation Serif', fontsize=15,
                    ha='left', va='bottom', annotation_clip=False)
    fig.text(lab_x / W, 1 - lab_y / H, panel_names[i], family='Liberation Serif', fontsize=21,
             fontweight='bold', ha='left', va='center')

fig.savefig('out.png', dpi=100)
